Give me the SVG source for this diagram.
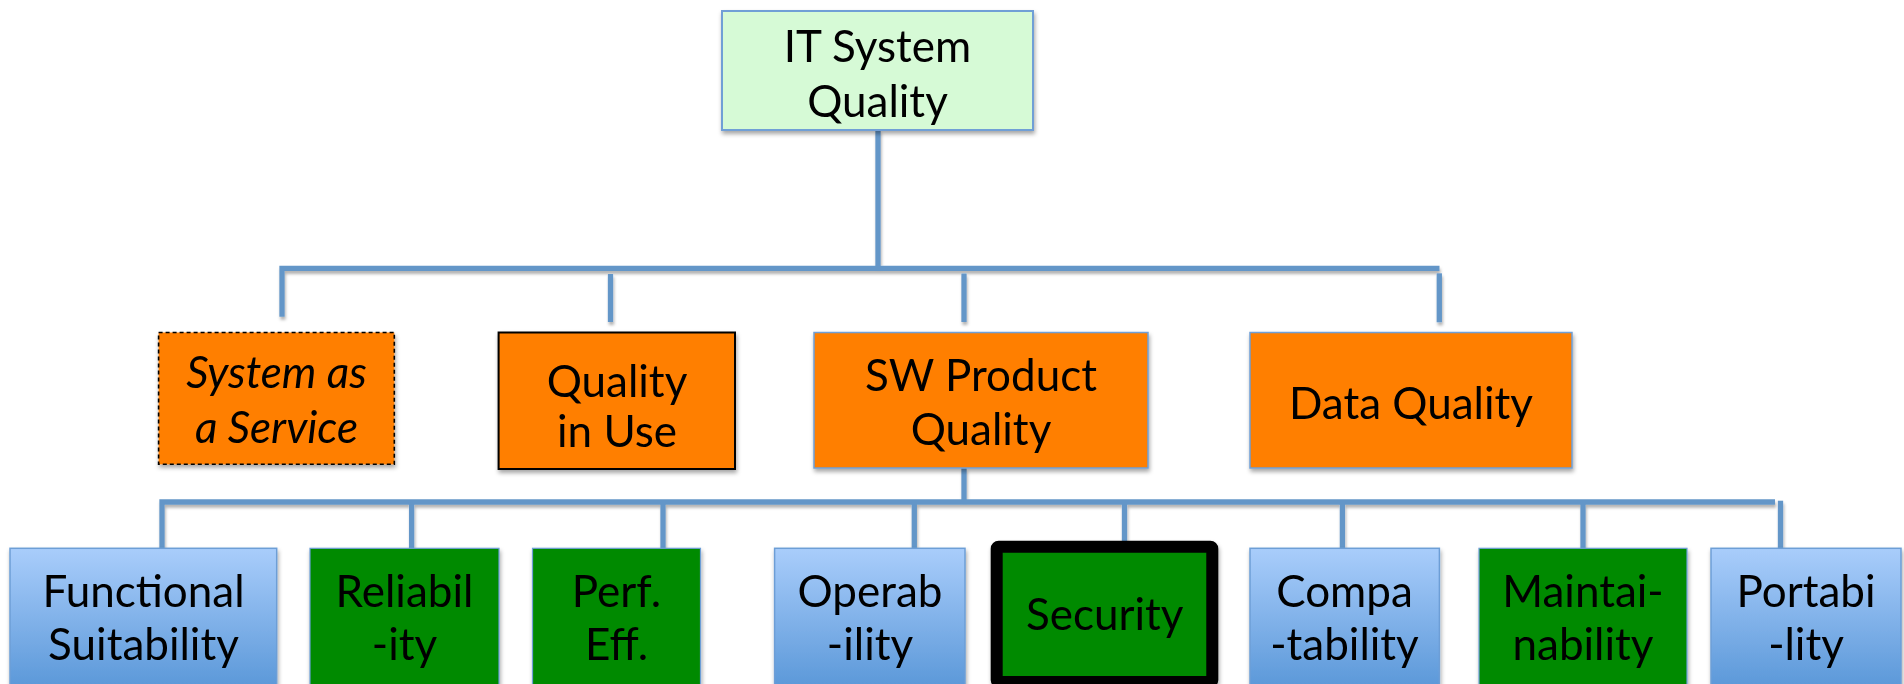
<svg xmlns="http://www.w3.org/2000/svg" width="1904" height="684" viewBox="0 0 1904 684">
  <defs>
    <linearGradient id="blueFill" x1="0" y1="0" x2="0" y2="1">
      <stop offset="0" stop-color="#a9cdfb"/>
      <stop offset="1" stop-color="#5594d6"/>
    </linearGradient>
    <filter id="shadow" x="-10%" y="-10%" width="120%" height="130%">
      <feDropShadow dx="1" dy="3" stdDeviation="2.2" flood-color="#000" flood-opacity="0.35"/>
    </filter>
    <filter id="lineShadow" x="-20%" y="-20%" width="140%" height="140%">
      <feDropShadow dx="1" dy="3" stdDeviation="1.8" flood-color="#000" flood-opacity="0.3"/>
    </filter>
  </defs>
  <style>
    text { font-family: Lato, "Open Sans", "Liberation Sans", sans-serif; font-size: 44px; fill: #000; text-anchor: middle; }
    .it { font-style: italic; }
    .root { fill: #d6fad6; stroke: #6f9fd6; stroke-width: 2; }
    .orange { fill: #ff7f00; }
    .ob { stroke: #6f9fd6; stroke-width: 1.5; }
    .dashed { stroke: #000; stroke-width: 1.6; stroke-dasharray: 4 3; }
    .solid { stroke: #000; stroke-width: 2; }
    .blue { fill: url(#blueFill); stroke: #6d9ed6; stroke-width: 1.5; }
    .green { fill: #008a00; stroke: #6d9ed6; stroke-width: 1.2; }
    .sec { fill: #008a00; stroke: #000; stroke-width: 12; }
    .conn path { fill: none; stroke: #6496c8; stroke-width: 5.3; stroke-linecap: butt; stroke-linejoin: miter; }
  </style>

  <rect width="1904" height="684" fill="#fff"/>

  <!-- connectors -->
  <g id="connectors" class="conn" filter="url(#lineShadow)">
    <path d="M878,130 V268.3"/>
    <path d="M282,316.7 V268.3 H1439.5"/>
    <path d="M610.5,274 V322"/>
    <path d="M964,273.5 V322"/>
    <path d="M1439.3,273.3 V322.3"/>
    <path d="M964,468 V502"/>
    <path d="M162,549 V502 H1775"/>
    <path d="M411.6,502 V548"/>
    <path d="M663,502 V548"/>
    <path d="M914.3,502 V549"/>
    <path d="M1124.5,502 V548"/>
    <path d="M1342.4,502 V548"/>
    <path d="M1583,502 V548"/>
    <path d="M1780.5,500.7 V549"/>
  </g>

  <!-- top level -->
  <g id="it-system-quality" filter="url(#shadow)">
    <rect class="root" x="722" y="11" width="311" height="119"/>
    <text x="877.5" y="62">IT System</text>
    <text x="877.5" y="117">Quality</text>
  </g>

  <!-- second level -->
  <g id="system-as-a-service" filter="url(#shadow)">
    <rect class="orange dashed" x="158.6" y="332.5" width="235.7" height="131.8"/>
    <text class="it" x="276.5" y="388">System as</text>
    <text class="it" x="276.5" y="443">a Service</text>
  </g>
  <g id="quality-in-use" filter="url(#shadow)">
    <rect class="orange solid" x="498.6" y="332.5" width="236.4" height="136.5"/>
    <text x="617" y="397">Quality</text>
    <text x="617" y="447">in Use</text>
  </g>
  <g id="sw-product-quality" filter="url(#shadow)">
    <rect class="orange ob" x="814" y="332.5" width="334" height="135.5"/>
    <text x="981" y="391">SW Product</text>
    <text x="981" y="445">Quality</text>
  </g>
  <g id="data-quality" filter="url(#shadow)">
    <rect class="orange ob" x="1250" y="332.5" width="322" height="135.5"/>
    <text x="1411" y="419">Data Quality</text>
  </g>

  <!-- third level -->
  <g id="functional-suitability" filter="url(#shadow)">
    <rect class="blue" x="10" y="548.3" width="266.7" height="150"/>
    <text x="143.5" y="607">Functional</text>
    <text x="143.5" y="660">Suitability</text>
  </g>
  <g id="reliability" filter="url(#shadow)">
    <rect class="green" x="310" y="548.3" width="189" height="150"/>
    <text x="404.5" y="607">Reliabil</text>
    <text x="404.5" y="660">-ity</text>
  </g>
  <g id="performance-efficiency" filter="url(#shadow)">
    <rect class="green" x="532.5" y="548.3" width="168" height="150"/>
    <text x="616.5" y="607">Perf.</text>
    <text x="616.5" y="660">Eff.</text>
  </g>
  <g id="operability" filter="url(#shadow)">
    <rect class="blue" x="774.6" y="548.3" width="190.4" height="150"/>
    <text x="870" y="607">Operab</text>
    <text x="870" y="660">-ility</text>
  </g>
  <g id="security" filter="url(#shadow)">
    <rect class="sec" x="996.7" y="546.7" width="215.6" height="135.3" rx="2"/>
    <text x="1104.7" y="630">Security</text>
  </g>
  <g id="compatability" filter="url(#shadow)">
    <rect class="blue" x="1250" y="548.3" width="189.4" height="150"/>
    <text x="1344.5" y="607">Compa</text>
    <text x="1344.5" y="660">-tability</text>
  </g>
  <g id="maintainability" filter="url(#shadow)">
    <rect class="green" x="1479" y="548.3" width="208" height="150"/>
    <text x="1583" y="607">Maintai-</text>
    <text x="1583" y="660">nability</text>
  </g>
  <g id="portability" filter="url(#shadow)">
    <rect class="blue" x="1711" y="548.3" width="190" height="150"/>
    <text x="1806" y="607">Portabi</text>
    <text x="1806" y="660">-lity</text>
  </g>
</svg>
